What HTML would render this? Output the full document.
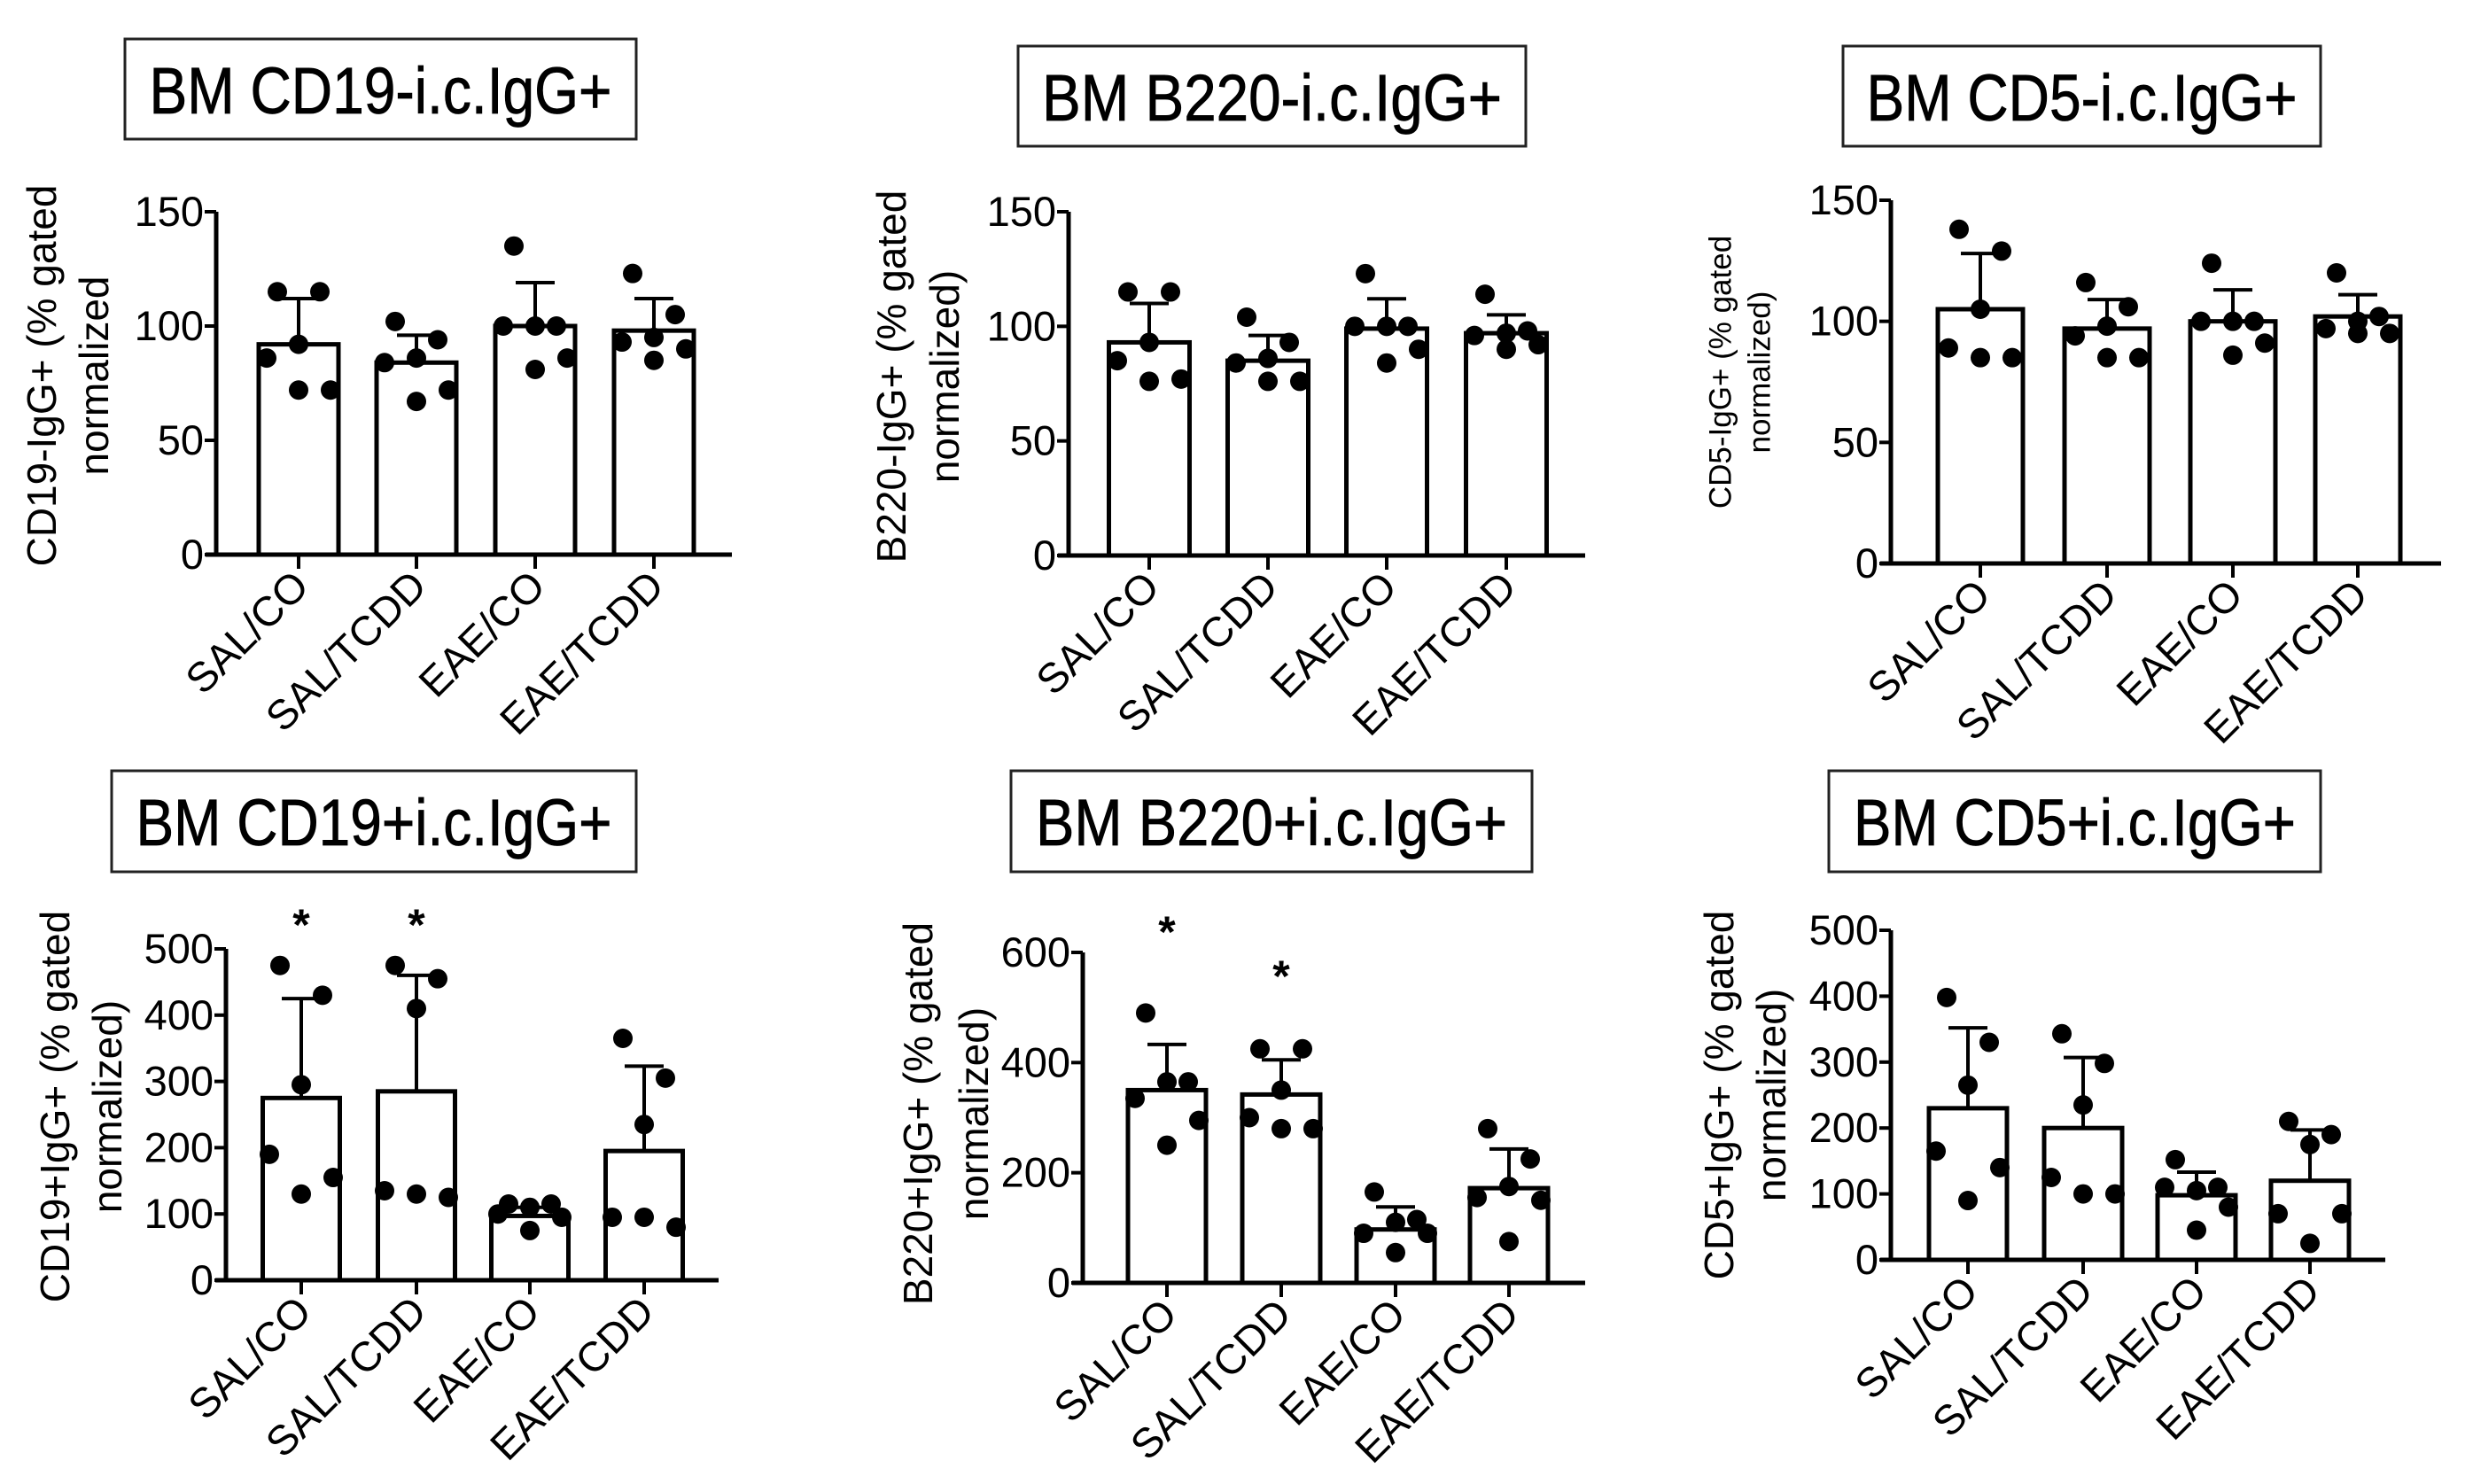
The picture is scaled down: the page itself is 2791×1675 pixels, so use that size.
<!DOCTYPE html>
<html><head><meta charset="utf-8"><style>
html,body{margin:0;padding:0;background:#fff;}
svg{display:block;font-family:"Liberation Sans",Arial,sans-serif;}
</style></head><body>
<svg id="fig" width="2791" height="1675" viewBox="0 0 2791 1675"></svg>
<script>
const categories = ["SAL/CO","SAL/TCDD","EAE/CO","EAE/TCDD"];
// Panel 1: CD19-
const p1Ticks = [0,50,100,150];
const p1Means = [92,84,100,98];
const p1ErrTop = [112,96,119,112];
const p1Dots = [[115,115,92,86,72,72],[102,94,86,84,72,67],[135,100,100,100,86,81],[123,105,95,93,90,85]];
const p1Stars = [false,false,false,false];
// Panel 2: B220-
const p2Ticks = [0,50,100,150];
const p2Means = [93,85,99,97];
const p2ErrTop = [110,96,112,105];
const p2Dots = [[115,115,93,85,77,76],[104,93,86,84,76,76],[123,100,100,100,90,84],[114,98,97,96,92,90]];
const p2Stars = [false,false,false,false];
// Panel 3: CD5-
const p3Ticks = [0,50,100,150];
const p3Means = [105,97,100,102];
const p3ErrTop = [128,109,113,111];
const p3Dots = [[138,129,105,89,85,85],[116,106,98,94,85,85],[124,100,100,100,91,86],[120,102,100,97,95,95]];
const p3Stars = [false,false,false,false];
// Panel 4: CD19+
const p4Ticks = [0,100,200,300,400,500];
const p4Means = [275,285,97,195];
const p4ErrTop = [425,460,110,323];
const p4Dots = [[475,430,295,190,155,130],[475,455,410,135,125,130],[115,115,110,100,95,75],[365,305,235,95,80,95]];
const p4Stars = [true,true,false,false];
// Panel 5: B220+
const p5Ticks = [0,200,400,600];
const p5Means = [350,342,97,172];
const p5ErrTop = [433,405,138,243];
const p5Dots = [[490,365,365,335,295,250],[425,425,350,300,280,280],[165,115,110,90,90,55],[280,225,175,155,150,75]];
const p5Stars = [true,true,false,false];
// Panel 6: CD5+
const p6Ticks = [0,100,200,300,400,500];
const p6Means = [230,200,98,120];
const p6ErrTop = [352,307,133,197];
const p6Dots = [[398,330,265,165,140,90],[343,298,235,125,100,100],[152,110,105,110,80,45],[210,190,175,70,70,25]];
const p6Stars = [false,false,false,false];

const NS="http://www.w3.org/2000/svg";
const svg=document.getElementById('fig');
function mk(tag,attrs,parent){const e=document.createElementNS(NS,tag);for(const k in attrs)e.setAttribute(k,attrs[k]);(parent||svg).appendChild(e);return e;}
const jitter=[-24,24,0,-36,36,0];

const panels=[
 {id:'cd19-neg',title:'BM CD19-i.c.IgG+',tw:522,box:[141,44,718,157],ax:244,y0:626,yTop:239,xEnd:826,centers:[337,470,604,738],bw:90,ymax:150,ticks:p1Ticks,means:p1Means,err:p1ErrTop,dots:p1Dots,stars:p1Stars,ytitle:['CD19-IgG+ (% gated','normalized'],tx:[51,110],tcy:424,tfs:46},
 {id:'b220-neg',title:'BM B220-i.c.IgG+',tw:519,box:[1149,52,1722,165],ax:1206,y0:627,yTop:239,xEnd:1789,centers:[1297,1431,1565,1700],bw:91,ymax:150,ticks:p2Ticks,means:p2Means,err:p2ErrTop,dots:p2Dots,stars:p2Stars,ytitle:['B220-IgG+ (% gated','normalized)'],tx:[1010,1070],tcy:425,tfs:46},
 {id:'cd5-neg',title:'BM CD5-i.c.IgG+',tw:486,box:[2080,52,2619,165],ax:2134,y0:636,yTop:226,xEnd:2755,centers:[2235,2378,2520,2661],bw:96,ymax:150,ticks:p3Ticks,means:p3Means,err:p3ErrTop,dots:p3Dots,stars:p3Stars,ytitle:['CD5-IgG+ (% gated','normalized)'],tx:[1944,1988],tcy:420,tfs:35},
 {id:'cd19-pos',title:'BM CD19+i.c.IgG+',tw:537,box:[126,870,718,984],ax:255,y0:1445,yTop:1071,xEnd:811,centers:[340,470,598,727],bw:87,ymax:500,ticks:p4Ticks,means:p4Means,err:p4ErrTop,dots:p4Dots,stars:p4Stars,starY:[1039,1039],ytitle:['CD19+IgG+  (% gated','normalized)'],tx:[66,125],tcy:1249,tfs:46},
 {id:'b220-pos',title:'BM B220+i.c.IgG+',tw:532,box:[1141,870,1729,984],ax:1222,y0:1448,yTop:1075,xEnd:1789,centers:[1317,1446,1575,1703],bw:88,ymax:600,ticks:p5Ticks,means:p5Means,err:p5ErrTop,dots:p5Dots,stars:p5Stars,starY:[1047,1097],ytitle:['B220+IgG+ (% gated','normalized)'],tx:[1040,1103],tcy:1257,tfs:46},
 {id:'cd5-pos',title:'BM CD5+i.c.IgG+',tw:499,box:[2064,870,2619,984],ax:2134,y0:1422,yTop:1050,xEnd:2692,centers:[2221,2351,2479,2607],bw:88,ymax:500,ticks:p6Ticks,means:p6Means,err:p6ErrTop,dots:p6Dots,stars:p6Stars,ytitle:['CD5+IgG+ (% gated','normalized)'],tx:[1944,2003],tcy:1236,tfs:46}
];

panels.forEach(p=>{
 const g=mk('g',{});
 
 
 const ys=v=>p.y0-(v/p.ymax)*(p.y0-p.yTop);
 const [bx0,by0,bx1,by1]=p.box;
 const r=mk('rect',{x:bx0,y:by0,width:bx1-bx0,height:by1-by0,fill:'#fff',stroke:'#222','stroke-width':3},g);
 
 
 const t=mk('text',{x:(bx0+bx1)/2,y:by0+84,'text-anchor':'middle','font-size':74,textLength:p.tw,lengthAdjust:'spacingAndGlyphs',fill:'#000',stroke:'#000','stroke-width':0.8},g);
 t.textContent=p.title;
 
 
 p.means.forEach((m,i)=>{
  const cx=p.centers[i];
  const b=mk('rect',{x:cx-p.bw/2,y:ys(m),width:p.bw,height:p.y0-ys(m),fill:'#fff',stroke:'#000','stroke-width':5},g);
  
  
  const e=mk('path',{d:`M${cx},${ys(m)}V${ys(p.err[i])}M${cx-22},${ys(p.err[i])}H${cx+22}`,stroke:'#000','stroke-width':4,fill:'none'},g);
  
  
 });
 p.dots.forEach((arr,i)=>{
  arr.forEach((v,j)=>{
   const c=mk('circle',{cx:p.centers[i]+jitter[j],cy:ys(v),r:11,fill:'#000'},g);
   
   
  });
 });
 p.stars.forEach((s,i)=>{
  if(!s)return;
  const st=mk('text',{x:p.centers[i],y:p.starY[i]+22,'text-anchor':'middle','font-size':50,'font-weight':'bold'},g);
  st.textContent='*';
  
  
 });
 const ya=mk('path',{d:`M${p.ax},${p.yTop}V${p.y0}`,stroke:'#000','stroke-width':5},g);
 
 
 const xa=mk('path',{d:`M${p.ax-12},${p.y0}H${p.xEnd}`,stroke:'#000','stroke-width':5},g);
 
 
 p.ticks.forEach(v=>{
  mk('path',{d:`M${p.ax-13},${ys(v)}H${p.ax}`,stroke:'#000','stroke-width':4},g);
  const tl=mk('text',{x:p.ax-14,y:ys(v)+16,'text-anchor':'end','font-size':47},g);
  tl.textContent=v;
  
  
 });
 categories.forEach((c,i)=>{
  const cx=p.centers[i];
  mk('path',{d:`M${cx},${p.y0}V${p.y0+16}`,stroke:'#000','stroke-width':4},g);
  const xl=mk('text',{x:cx+14,y:p.y0+38,'text-anchor':'end','font-size':47,transform:`rotate(-45 ${cx+14} ${p.y0+38})`},g);
  xl.textContent=c;
  
  
 });
 p.ytitle.forEach((line,k)=>{
  const x=p.tx[k];
  const yt=mk('text',{x:x,y:p.tcy,'text-anchor':'middle','font-size':p.tfs,transform:`rotate(-90 ${x} ${p.tcy})`,'dominant-baseline':'middle'},g);
  yt.textContent=line;
  
  
 });
});
</script>
</body></html>
